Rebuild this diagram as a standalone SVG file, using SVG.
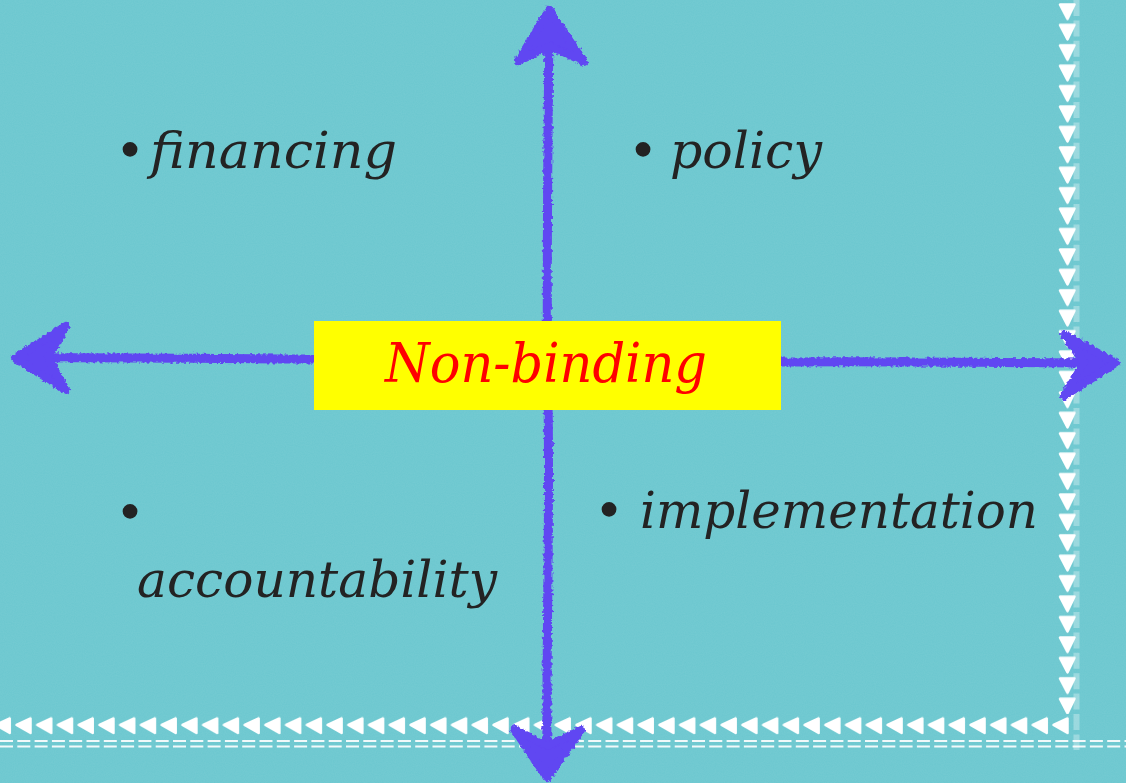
<svg xmlns="http://www.w3.org/2000/svg" width="1126" height="783" viewBox="0 0 1126 783">
  <style>
    .lbl { font-family: "DejaVu Serif", "Liberation Serif", serif; font-style: italic; font-size: 51px; fill: #232323; }
    .ctr { font-family: "DejaVu Serif", "Liberation Serif", serif; font-style: italic; font-size: 54px; fill: #ff0000; }
    .axis { stroke: #6046f2; stroke-linecap: round; stroke-linejoin: round; fill: none; }
    .head { fill: #6046f2; stroke: #6046f2; stroke-width: 8; stroke-linejoin: round; stroke-linecap: round; }
    .dash { stroke: #ffffff; stroke-width: 2; stroke-dasharray: 13 4.3; opacity: 0.9; }
  </style>
  <defs>
    <filter id="grain" x="0" y="0" width="100%" height="100%">
      <feTurbulence type="fractalNoise" baseFrequency="0.9" numOctaves="2" seed="3" result="n"/>
      <feColorMatrix type="matrix" values="0 0 0 0 1  0 0 0 0 1  0 0 0 0 1  0 0 0 0.07 0" in="n"/>
    </filter>
    <filter id="rough" x="-5%" y="-5%" width="110%" height="110%">
      <feTurbulence type="fractalNoise" baseFrequency="0.3" numOctaves="2" seed="7" result="t"/>
      <feDisplacementMap in="SourceGraphic" in2="t" scale="5" xChannelSelector="R" yChannelSelector="G"/>
    </filter>
    <pattern id="triDown" patternUnits="userSpaceOnUse" x="1058" y="3" width="20" height="20.42">
      <polygon points="2,1.5 16.5,1.5 9.5,16" fill="#ffffff" stroke="#ffffff" stroke-width="2.5" stroke-linejoin="round"/>
    </pattern>
    <pattern id="triLeft" patternUnits="userSpaceOnUse" x="-5.74" y="717" width="20.74" height="18">
      <polygon points="1.5,8 15.5,1.5 15.5,16" fill="#ffffff" stroke="#ffffff" stroke-width="2.5" stroke-linejoin="round"/>
    </pattern>
  </defs>

  <!-- background -->
  <rect x="0" y="0" width="1126" height="783" fill="#6bc7cf"/>
  <rect x="0" y="0" width="1126" height="783" filter="url(#grain)"/>

  <!-- decorative border -->
  <g id="border">
    <rect x="1058" y="0" width="20" height="714" fill="url(#triDown)"/>
    <line x1="1076.5" y1="0" x2="1076.5" y2="750" stroke="#ffffff" stroke-width="6" stroke-dasharray="16 4.4" opacity="0.3"/>
    <rect x="0" y="716" width="1070" height="19" fill="url(#triLeft)"/>
    <line class="dash" x1="0" y1="741" x2="1126" y2="741"/>
    <line class="dash" x1="0" y1="746.5" x2="1126" y2="746.5"/>
  </g>

  <!-- connectors: the two axes -->
  <g id="connectors" filter="url(#rough)">
    <path class="axis" stroke-width="9" d="M549,20 C548,150 546,300 548,400 C550,520 546,650 547,770"/>
    <path class="axis" stroke-width="9" d="M20,358 C120,357 220,359 316,359"/>
    <path class="axis" stroke-width="9" d="M779,362 C900,361 1000,363 1110,363"/>
    <!-- up -->
    <path class="head" d="M549,10 L584,62 L550,46 L518,61 Z"/>
    <!-- down -->
    <path class="head" d="M547,778 L514,729 L548,746 L581,730 Z"/>
    <!-- left -->
    <path class="head" d="M15,358 L66,326 L48,358 L66,390 Z"/>
    <!-- right -->
    <path class="head" d="M1116,363 L1064,334 L1084,363 L1064,396 Z"/>
  </g>

  <!-- center node -->
  <g id="node-nonbinding">
    <rect x="314" y="321" width="467" height="89" fill="#ffff00"/>
    <text class="ctr" x="385" y="382" textLength="322" lengthAdjust="spacingAndGlyphs">Non-binding</text>
  </g>

  <g id="node-financing">
    <text class="lbl"><tspan x="115" y="168">•</tspan><tspan x="150" y="168" textLength="247" lengthAdjust="spacingAndGlyphs">financing</tspan></text>
  </g>
  <g id="node-policy">
    <text class="lbl"><tspan x="628" y="168">•</tspan><tspan x="670" y="168" textLength="152" lengthAdjust="spacingAndGlyphs">policy</tspan></text>
  </g>
  <g id="node-accountability">
    <text class="lbl"><tspan x="115" y="530">•</tspan><tspan x="137" y="597" textLength="360" lengthAdjust="spacingAndGlyphs">accountability</tspan></text>
  </g>
  <g id="node-implementation">
    <text class="lbl"><tspan x="594" y="528">•</tspan><tspan x="640" y="528" textLength="398" lengthAdjust="spacingAndGlyphs">implementation</tspan></text>
  </g>
</svg>
